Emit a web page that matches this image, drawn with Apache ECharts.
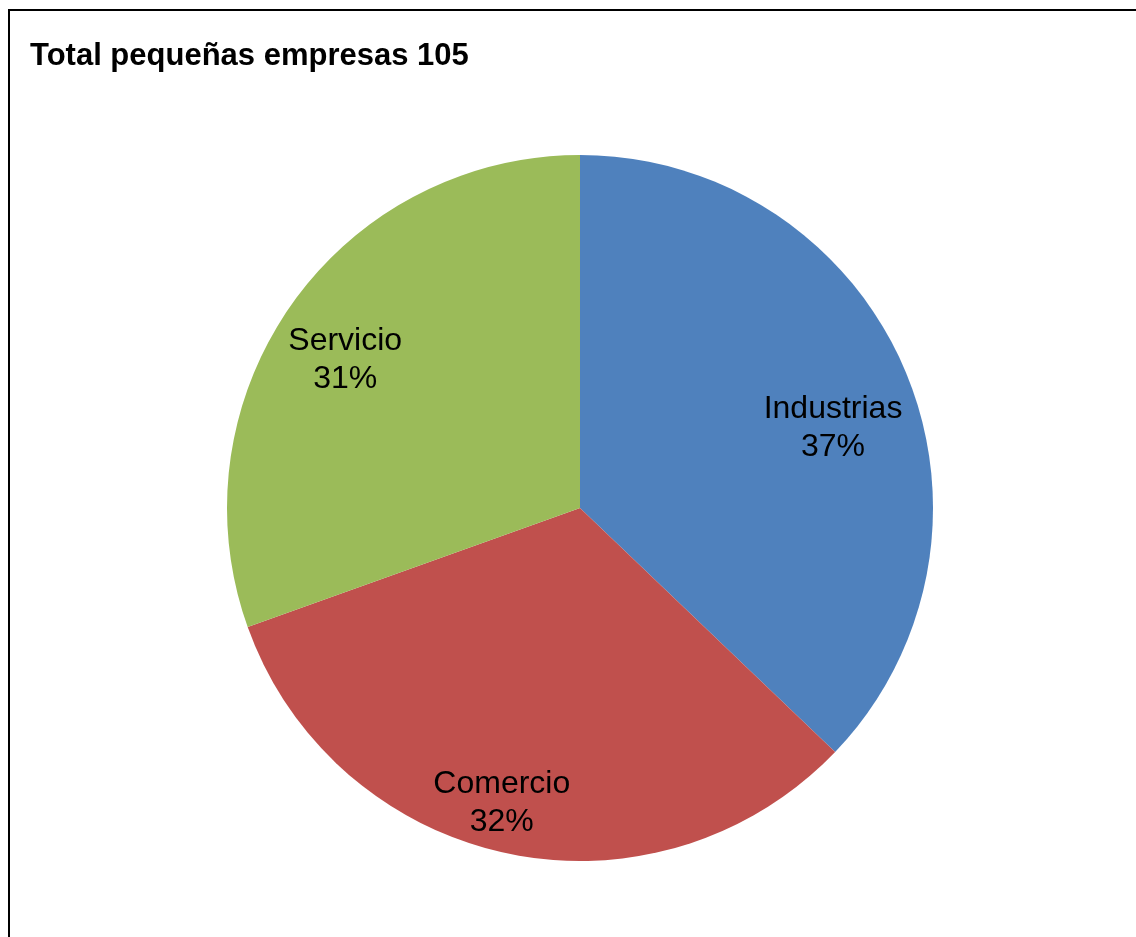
<!DOCTYPE html>
<html>
<head>
<meta charset="utf-8">
<script src="https://cdn.jsdelivr.net/npm/echarts@6/dist/echarts.min.js"></script>
<style>
html,body{margin:0;padding:0;background:#fff;overflow:hidden;}
#frame{position:absolute;left:8px;top:9px;width:1200px;height:1000px;border:2px solid #000;box-sizing:border-box;}
#chart{position:absolute;left:0;top:0;width:1136px;height:937px;}
</style>
</head>
<body>
<div id="frame"></div>
<div id="chart"></div>
<script>
const titleText = 'Total pequeñas empresas 105';
const categories = ['Industrias', 'Comercio', 'Servicio'];
const values = [39, 34, 32];
const colors = ['#4F81BD', '#C0504D', '#9BBB59'];

const data = categories.map((c, i) => ({ name: c, value: values[i], itemStyle: { color: colors[i] } }));

const chart = echarts.init(document.getElementById('chart'), null, { renderer: 'canvas' });
chart.setOption({
  backgroundColor: 'transparent',
  animation: false,
  title: {
    text: titleText,
    left: 25,
    top: 36,
    textStyle: { fontFamily: 'Liberation Sans, Arial, sans-serif', fontSize: 31, fontWeight: 'bold', color: '#000' }
  },
  series: [
    {
      type: 'pie',
      center: [580, 508],
      radius: [0, 353],
      startAngle: 90,
      clockwise: true,
      data: data,
      label: { show: false },
      labelLine: { show: false },
      itemStyle: { borderWidth: 0 },
      emphasis: { disabled: true }
    },
    {
      type: 'pie',
      center: [580, 508],
      radius: [205, 353],
      startAngle: 88,
      clockwise: true,
      silent: true,
      percentPrecision: 0,
      data: categories.map((c, i) => ({ name: c, value: values[i] })),
      itemStyle: { color: 'rgba(0,0,0,0)', borderWidth: 0 },
      label: {
        show: true,
        position: 'inside',
        formatter: '{b}\n{d}%',
        fontFamily: 'Liberation Sans, Arial, sans-serif',
        fontSize: 32,
        lineHeight: 38,
        color: '#000',
        align: 'center',
        offset: [-10, 22]
      },
      labelLine: { show: false },
      emphasis: { disabled: true }
    }
  ]
});
</script>
</body>
</html>
